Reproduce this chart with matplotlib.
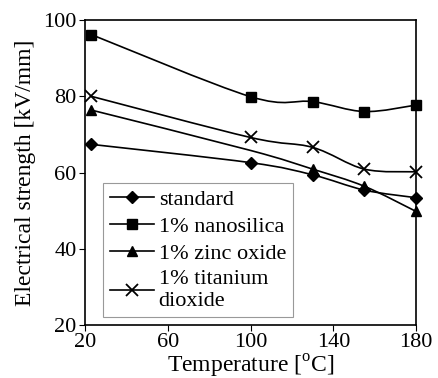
import matplotlib
matplotlib.use("Agg")
import matplotlib.pyplot as plt
import numpy as np
from matplotlib.path import Path
from matplotlib.patches import PathPatch
from matplotlib.lines import Line2D

plt.rcParams['font.family'] = ['Liberation Serif', 'DejaVu Serif']

temps = [23, 100, 130, 155, 180]
standard = [67.4, 62.6, 59.4, 55.4, 53.4]
nanosilica = [96.2, 79.9, 78.6, 76.0, 77.7]
zinc_oxide = [76.4, 65.8, 60.9, 56.4, 49.8]
titanium = [80.0, 69.2, 66.6, 60.9, 60.2]

labels = ['standard', '1% nanosilica', '1% zinc oxide', '1% titanium\ndioxide']
markers = ['D', 's', '^', 'x']
msizes = [6, 6.5, 7, 8]
markevery = [None, None, [0, 2, 3, 4], None]


def smooth_path(x, y):
    # Excel-like smoothed line: cubic bezier through the points
    x = np.asarray(x, float)
    y = np.asarray(y, float)
    n = len(x)
    verts = [(x[0], y[0])]
    codes = [Path.MOVETO]
    for i in range(n - 1):
        p0 = np.array([x[max(i - 1, 0)], y[max(i - 1, 0)]])
        p1 = np.array([x[i], y[i]])
        p2 = np.array([x[i + 1], y[i + 1]])
        p3 = np.array([x[min(i + 2, n - 1)], y[min(i + 2, n - 1)]])
        c1 = p1 + (p2 - p0) / 6
        c2 = p2 - (p3 - p1) / 6
        verts += [tuple(c1), tuple(c2), tuple(p2)]
        codes += [Path.CURVE4] * 3
    return Path(verts, codes)


fig = plt.figure(figsize=(4.38, 3.78), dpi=100)
ax = fig.add_axes([0.194, 0.140, 0.756, 0.807])

handles = []
for y, lab, m, ms, me in zip([standard, nanosilica, zinc_oxide, titanium],
                             labels, markers, msizes, markevery):
    patch = PathPatch(smooth_path(temps, y), facecolor='none',
                      edgecolor='black', linewidth=1.2, transform=ax.transData)
    ax.add_patch(patch)
    mew = 1.3 if m == 'x' else 1
    ax.plot(temps, y, linestyle='none', marker=m, markersize=ms,
            color='black', markevery=me, markeredgewidth=mew, clip_on=False)
    handles.append(Line2D([], [], color='black', linewidth=1.2, marker=m,
                          markersize=ms, markeredgewidth=mew, label=lab))

ax.set_xlim(20, 180)
ax.set_ylim(20, 100)
ax.set_xticks([20, 60, 100, 140, 180])
ax.set_yticks([20, 40, 60, 80, 100])
ax.tick_params(direction='out', length=4, width=0.8, labelsize=16,
               colors='black', pad=2)
for s in ax.spines.values():
    s.set_linewidth(1.2)

ax.set_xlabel('Temperature [$^{\\mathregular{o}}$C]', fontsize=17, labelpad=0)
ax.set_ylabel('Electrical strength [kV/mm]', fontsize=17, labelpad=5)

leg = ax.legend(handles=handles, loc='lower left',
                bbox_to_anchor=(0.055, 0.025), fontsize=16, frameon=True,
                fancybox=False, edgecolor='#808080', handlelength=2.0,
                handletextpad=0.2, borderpad=0.3, labelspacing=0.28,
                borderaxespad=0)
leg.get_frame().set_linewidth(0.8)

fig.savefig('out.png', dpi=100)
